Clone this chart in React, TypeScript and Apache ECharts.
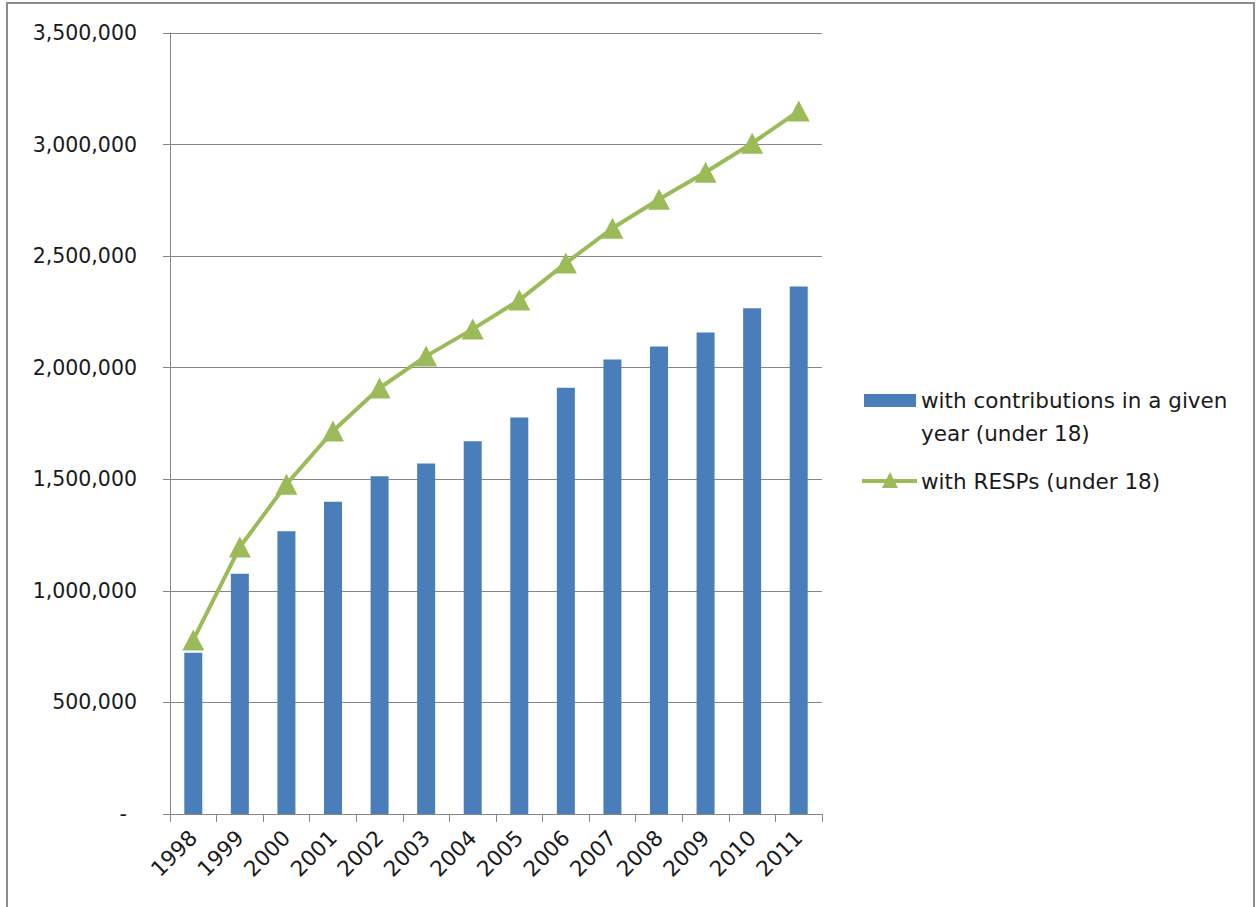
import React, { useEffect, useRef } from "react";
import * as echarts from "echarts";

const years = ["1998", "1999", "2000", "2001", "2002", "2003", "2004", "2005", "2006", "2007", "2008", "2009", "2010", "2011"];
const contributors = [723000, 1077000, 1267000, 1399000, 1514000, 1571000, 1670000, 1777000, 1910000, 2037000, 2095000, 2158000, 2266000, 2364000];
const holders = [780000, 1196000, 1478000, 1716000, 1909000, 2052000, 2173000, 2303000, 2469000, 2625000, 2755000, 2876000, 3006000, 3150000];
const barLegendLines = ["with contributions in a given", "year (under 18)"];
const lineLegend = "with RESPs (under 18)";

const FONT = "DejaVu Sans";
const TEXT = "#1a1a1a";
const GRID = "#868686";
const BLUE = "#4A7EBB";
const GREEN = "#9BBB59";
const LEGEND_FONT = `21.5px "${FONT}"`;

export default function App() {
  const ref = useRef<HTMLDivElement>(null);

  useEffect(() => {
    if (!ref.current) return;
    const chart = echarts.init(ref.current, null, { renderer: "svg" });
    chart.setOption({
      animation: false,
      backgroundColor: "#ffffff",
      grid: { left: 170, top: 33, right: 434, bottom: 93, containLabel: false },
      xAxis: {
        type: "category",
        data: years,
        axisLine: { show: true, lineStyle: { color: GRID, width: 1 } },
        axisTick: { show: true, length: 8, alignWithLabel: false, lineStyle: { color: GRID } },
        axisLabel: {
          interval: 0,
          rotate: 45,
          margin: 20,
          color: TEXT,
          fontFamily: FONT,
          fontSize: 21.5,
        },
        splitLine: { show: false },
      },
      yAxis: {
        type: "value",
        min: 0,
        max: 3500000,
        interval: 500000,
        axisLine: { show: true, lineStyle: { color: GRID, width: 1 } },
        axisTick: { show: true, length: 7, lineStyle: { color: GRID } },
        axisLabel: {
          margin: 33,
          color: TEXT,
          fontFamily: FONT,
          fontSize: 20.5,
          formatter: (v: number) => (v === 0 ? "{dash|-}" : v.toLocaleString("en-US")),
          rich: {
            dash: { padding: [0, 10, 0, 0], fontFamily: FONT, fontSize: 20.5, color: TEXT },
          },
        },
        splitLine: { show: true, lineStyle: { color: GRID, width: 1 } },
      },
      series: [
        {
          name: barLegendLines.join(" "),
          type: "bar",
          data: contributors,
          barWidth: 18,
          itemStyle: { color: BLUE },
          z: 2,
        },
        {
          name: lineLegend,
          type: "line",
          data: holders,
          symbol: "triangle",
          symbolSize: [22, 21],
          lineStyle: { color: GREEN, width: 4 },
          itemStyle: { color: GREEN },
          z: 3,
        },
      ],
      graphic: [
        {
          type: "rect",
          shape: { x: 7, y: 3, width: 1247, height: 930 },
          style: { fill: "none", stroke: "#8c8c8c", lineWidth: 2 },
          silent: true,
        },
        {
          type: "rect",
          shape: { x: 864, y: 394, width: 52, height: 13 },
          style: { fill: BLUE },
        },
        {
          type: "text",
          x: 921,
          y: 400,
          style: { text: barLegendLines[0], fill: TEXT, font: LEGEND_FONT, verticalAlign: "middle" },
        },
        {
          type: "text",
          x: 921,
          y: 433,
          style: { text: barLegendLines[1], fill: TEXT, font: LEGEND_FONT, verticalAlign: "middle" },
        },
        {
          type: "line",
          shape: { x1: 862, y1: 481, x2: 917, y2: 481 },
          style: { stroke: GREEN, lineWidth: 4 },
        },
        {
          type: "polygon",
          shape: { points: [[890, 472], [898, 488], [882, 488]] },
          style: { fill: GREEN },
        },
        {
          type: "text",
          x: 921,
          y: 481,
          style: { text: lineLegend, fill: TEXT, font: LEGEND_FONT, verticalAlign: "middle" },
        },
      ],
    });
    return () => chart.dispose();
  }, []);

  return (
    <div
      ref={ref}
      style={{ position: "absolute", left: 0, top: 0, width: 1256, height: 907 }}
    />
  );
}
